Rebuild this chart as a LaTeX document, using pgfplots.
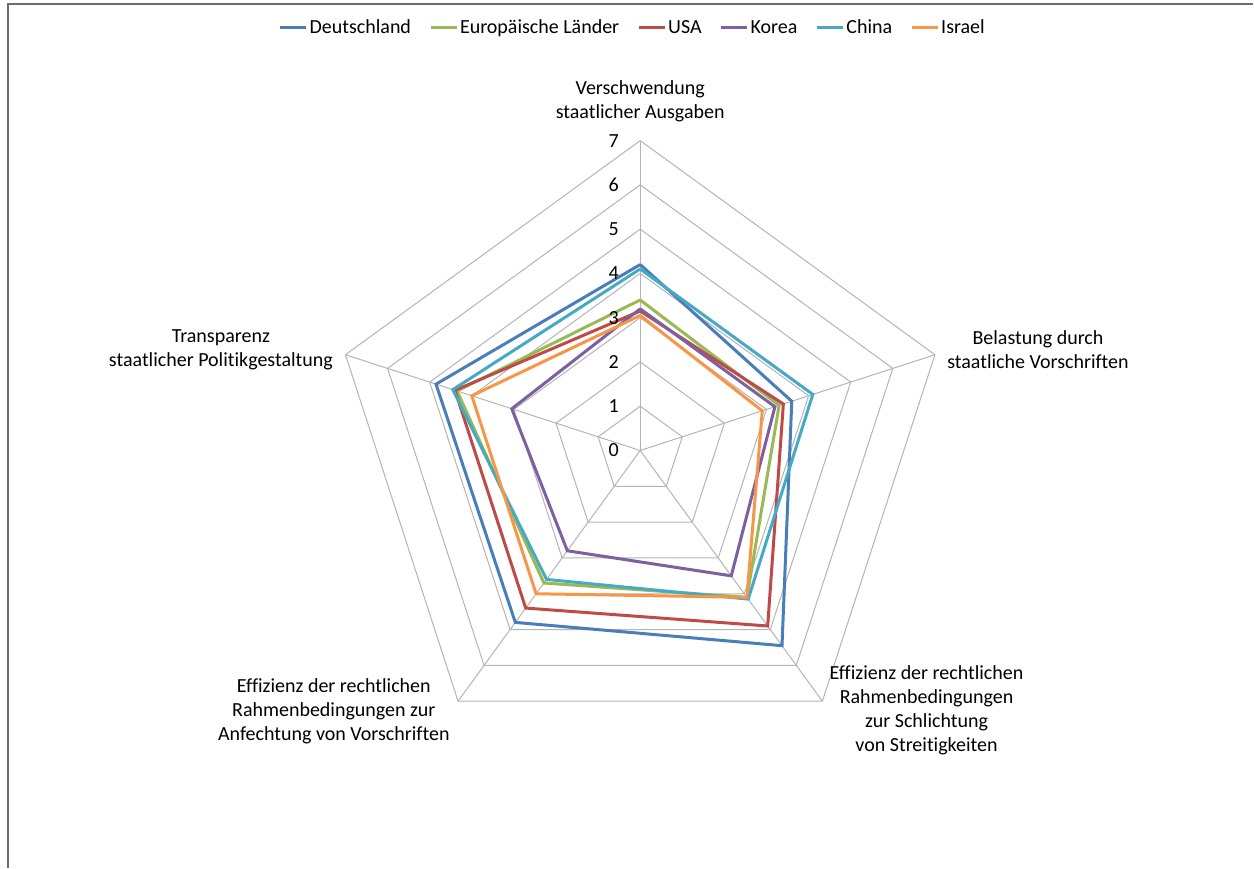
\documentclass[border=0pt]{standalone}
\usepackage{pgfplots}
\usepackage{pgfplotstable}
\pgfplotsset{compat=1.18}
\usepackage{fontspec}
\setmainfont{Carlito}[Ligatures=NoCommon]
\definecolor{cDe}{HTML}{4A7EBB}
\definecolor{cEu}{HTML}{98B954}
\definecolor{cUS}{HTML}{BE4B48}
\definecolor{cKo}{HTML}{7D60A0}
\definecolor{cCn}{HTML}{46AAC5}
\definecolor{cIl}{HTML}{F79646}
\definecolor{gridc}{HTML}{B4B4B4}
\pgfplotstableread{
a De Eu US Ko Cn Il
90 4.2 3.4 3.15 3.2 4.1 3.05
18 3.6 3.3 3.4 3.2 4.1 2.9
-54 5.45 4.1 4.9 3.5 4.15 4.1
-126 4.8 3.7 4.4 2.8 3.6 4.0
162 4.85 4.35 4.4 3.05 4.45 4.0
90 4.2 3.4 3.15 3.2 4.1 3.05
}\data
\pgfplotstableread{
a b
90 0
18 0
-54 0
-126 0
162 0
90 0
}\angles
\pgfplotstableread{
r b
0 0
7 0
}\spoke
\newcommand{\lfont}{\fontsize{10}{12}\selectfont}
\begin{document}
\begin{tikzpicture}
\begin{axis}[
  scale only axis, width=627pt, height=434pt,
  xmin=0, xmax=1254, ymin=0, ymax=868, y dir=reverse,
  hide axis, clip=false,
  legend style={at={(axis cs:633,28)}, anchor=center, draw=none, fill=none,
    legend columns=-1, font=\lfont, inner sep=0pt,
    nodes={inner sep=1pt, text height=1.6ex, text depth=0.45ex},
    /tikz/every even column/.append style={column sep=8pt}},
  legend image code/.code={\draw[#1, line width=1.5pt] (0pt,0pt) -- (13pt,0pt);},
]
\path (axis cs:0,0) rectangle (axis cs:1254,868);
\draw[color=gray!85!black, line width=0.6pt] (axis cs:8,868) -- (axis cs:8,4) -- (axis cs:1254,4);
\pgfplotsinvokeforeach{1,...,7}{
  \addplot[gridc, line width=0.5pt, forget plot] table[
    x expr={640.5+44.29*#1*cos(\thisrow{a})},
    y expr={450.7-44.29*#1*sin(\thisrow{a})}] {\angles};
}
\pgfplotsinvokeforeach{90,18,-54,-126,162}{
  \addplot[gridc, line width=0.5pt, forget plot] table[
    x expr={640.5+44.29*\thisrow{r}*cos(#1)},
    y expr={450.7-44.29*\thisrow{r}*sin(#1)}] {\spoke};
}
\addplot[cDe, line width=1.5pt, line join=miter] table[x expr={640.5+44.29*\thisrow{De}*cos(\thisrow{a})}, y expr={450.7-44.29*\thisrow{De}*sin(\thisrow{a})}] {\data};
\addlegendentry{Deutschland}
\addplot[cEu, line width=1.5pt, line join=miter] table[x expr={640.5+44.29*\thisrow{Eu}*cos(\thisrow{a})}, y expr={450.7-44.29*\thisrow{Eu}*sin(\thisrow{a})}] {\data};
\addlegendentry{Europäische Länder}
\addplot[cUS, line width=1.5pt, line join=miter] table[x expr={640.5+44.29*\thisrow{US}*cos(\thisrow{a})}, y expr={450.7-44.29*\thisrow{US}*sin(\thisrow{a})}] {\data};
\addlegendentry{USA}
\addplot[cKo, line width=1.5pt, line join=miter] table[x expr={640.5+44.29*\thisrow{Ko}*cos(\thisrow{a})}, y expr={450.7-44.29*\thisrow{Ko}*sin(\thisrow{a})}] {\data};
\addlegendentry{Korea}
\addplot[cCn, line width=1.5pt, line join=miter] table[x expr={640.5+44.29*\thisrow{Cn}*cos(\thisrow{a})}, y expr={450.7-44.29*\thisrow{Cn}*sin(\thisrow{a})}] {\data};
\addlegendentry{China}
\addplot[cIl, line width=1.5pt, line join=miter] table[x expr={640.5+44.29*\thisrow{Il}*cos(\thisrow{a})}, y expr={450.7-44.29*\thisrow{Il}*sin(\thisrow{a})}] {\data};
\addlegendentry{Israel}
\pgfplotsinvokeforeach{0,...,7}{
  \node[font=\lfont, inner sep=0pt, anchor=center] at (axis cs:614,{450.7-44.29*#1}) {#1};
}
\node[font=\lfont, align=center, inner sep=0pt] at (axis cs:640.5,101) {Verschwendung\\staatlicher Ausgaben};
\node[font=\lfont, align=center, inner sep=0pt] at (axis cs:1038.5,350) {Belastung durch\\staatliche Vorschriften};
\node[font=\lfont, align=center, inner sep=0pt] at (axis cs:927,711) {Effizienz der rechtlichen\\Rahmenbedingungen\\zur Schlichtung\\von Streitigkeiten};
\node[font=\lfont, align=center, inner sep=0pt] at (axis cs:334,712) {Effizienz der rechtlichen\\Rahmenbedingungen zur\\Anfechtung von Vorschriften};
\node[font=\lfont, align=center, inner sep=0pt] at (axis cs:221,350) {Transparenz\\staatlicher Politikgestaltung};
\end{axis}
\end{tikzpicture}
\end{document}
